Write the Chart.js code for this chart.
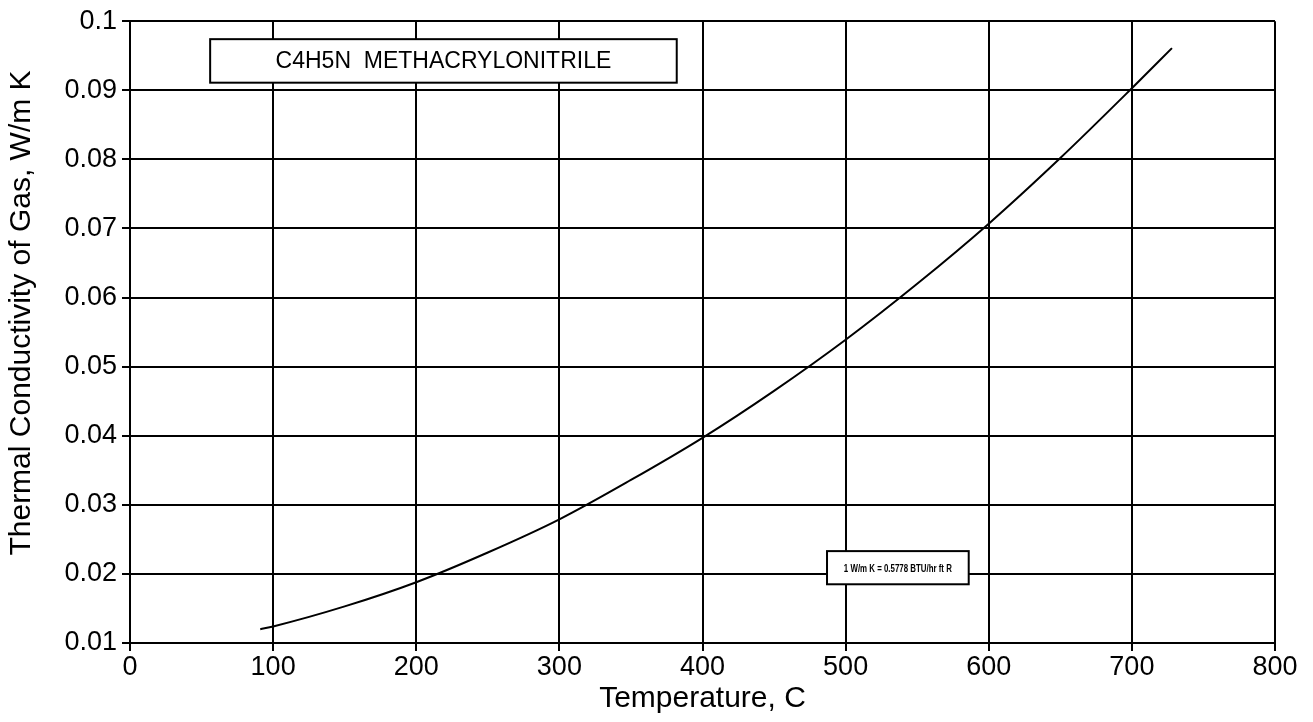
<!DOCTYPE html>
<html>
<head>
<meta charset="utf-8">
<script src="https://cdn.jsdelivr.net/npm/chart.js@4.4.1/dist/chart.umd.min.js"></script>
<style>
html,body{margin:0;padding:0;background:#fff;}
#wrap{width:1313px;height:722px;position:relative;}
</style>
</head>
<body>
<div id="wrap"><canvas id="c" width="1313" height="722"></canvas></div>
<script>
const temperatures = [91, 100, 150, 200, 250, 300, 350, 400, 450, 500, 550, 600, 650, 700, 728];
const conductivity = [0.0120, 0.0124, 0.0153, 0.0188, 0.0231, 0.0279, 0.0336, 0.0397, 0.0465, 0.0539, 0.0620, 0.0707, 0.0802, 0.0903, 0.0961];
const xTickLabels = ["0","100","200","300","400","500","600","700","800"];
const yTickLabels = ["0.01","0.02","0.03","0.04","0.05","0.06","0.07","0.08","0.09","0.1"];
const titleText = "C4H5N  METHACRYLONITRILE";
const noteText = "1 W/m K = 0.5778 BTU/hr ft R";
const xTitle = "Temperature, C";
const yTitle = "Thermal Conductivity of Gas, W/m K";

const FONT = "'Liberation Sans', Arial, Helvetica, sans-serif";

const boxesPlugin = {
  id: 'boxes',
  afterDraw(chart) {
    const ctx = chart.ctx, xs = chart.scales.x, ys = chart.scales.y;
    function box(x0, x1, y0, y1, text, font, maxW) {
      const L = xs.getPixelForValue(x0), R = xs.getPixelForValue(x1);
      const T = ys.getPixelForValue(y0), B = ys.getPixelForValue(y1);
      ctx.save();
      ctx.fillStyle = '#fff';
      ctx.fillRect(L, T, R - L, B - T);
      ctx.strokeStyle = '#000';
      ctx.lineWidth = 2;
      ctx.strokeRect(L, T, R - L, B - T);
      ctx.fillStyle = '#000';
      ctx.font = font;
      ctx.textAlign = 'center';
      ctx.textBaseline = 'middle';
      ctx.fillText(text, (L + R) / 2, (T + B) / 2 + 1, maxW);
      ctx.restore();
    }
    box(56, 382, 0.0974, 0.0911, titleText, "23px " + FONT, 340);
    box(487, 586, 0.0233, 0.0185, noteText, "bold 11px " + FONT, 108);
    // y axis title
    ctx.save();
    ctx.translate(22, 313);
    ctx.rotate(-Math.PI / 2);
    ctx.fillStyle = '#000';
    ctx.font = "30px " + FONT;
    ctx.textAlign = 'center';
    ctx.textBaseline = 'middle';
    ctx.fillText(yTitle, 0, 0);
    ctx.restore();
  }
};

new Chart(document.getElementById('c'), {
  type: 'line',
  data: {
    datasets: [{
      data: temperatures.map((t, i) => ({x: t, y: conductivity[i]})),
      borderColor: '#000',
      borderWidth: 2,
      pointRadius: 0,
      cubicInterpolationMode: 'monotone',
      fill: false
    }]
  },
  options: {
    responsive: false,
    animation: false,
    devicePixelRatio: 1,
    layout: { padding: { top: 20, right: 38, left: 0, bottom: 0 } },
    plugins: { legend: { display: false }, tooltip: { enabled: false } },
    scales: {
      x: {
        type: 'linear', min: 0, max: 800,
        afterFit(s) { s.height = 79; },
        ticks: {
          stepSize: 100, color: '#000', padding: 0, maxRotation: 0,
          font: { family: FONT, size: 27 },
          callback: (v) => xTickLabels[Math.round(v / 100)]
        },
        grid: { color: '#000', lineWidth: 2, tickLength: 8, drawTicks: true },
        border: { color: '#000', width: 2 },
        title: { display: true, text: xTitle, color: '#000', font: { family: FONT, size: 30 }, padding: { top: 0, bottom: 5 } }
      },
      y: {
        type: 'linear', min: 0.01, max: 0.1,
        afterFit(s) { s.width = 130; },
        ticks: {
          stepSize: 0.01, color: '#000', padding: 5,
          font: { family: FONT, size: 27 },
          callback: (v) => yTickLabels[Math.round(v * 100) - 1]
        },
        grid: { color: '#000', lineWidth: 2, tickLength: 8, drawTicks: true },
        border: { color: '#000', width: 2 },
        title: { display: false, text: yTitle }
      }
    }
  },
  plugins: [boxesPlugin]
});
</script>
</body>
</html>
